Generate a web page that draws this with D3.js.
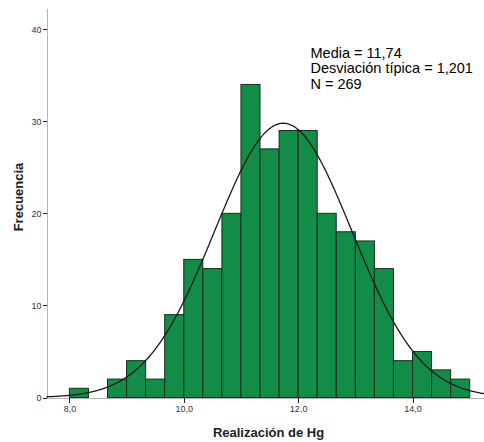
<!DOCTYPE html>
<html>
<head>
<meta charset="utf-8">
<script src="https://cdn.jsdelivr.net/npm/d3@7"></script>
<style>
  body { margin: 0; background: #fff; }
  svg { display: block; font-family: 'Liberation Sans', Arial, sans-serif; }
  .axis path, .axis line { shape-rendering: crispEdges; }
</style>
</head>
<body>
<div id="chart"></div>
<script>
// histogram bins (lower edge) and counts
let binStarts = [8.0, 8.333, 8.667, 9.0, 9.333, 9.667, 10.0, 10.333, 10.667, 11.0, 11.333,
  11.667, 12.0, 12.333, 12.667, 13.0, 13.333, 13.667, 14.0, 14.333, 14.667]
let counts = [1, 0, 2, 4, 2, 9, 15, 14, 20, 34, 27, 29, 29, 20, 18, 17, 14, 4, 5, 3, 2]
let binWidth = 1 / 3

let mean = 11.74
let sd = 1.201
let n = 269

let xTicks = [8, 10, 12, 14]
let yTicks = [0, 10, 20, 30, 40]
let statLines = ['Media = 11,74', 'Desviación típica = 1,201', 'N = 269']

let margin = { top: 8, left: 46.5, right: 0, bottom: 44.5 }
let width = 484 - margin.left - margin.right
let height = 442 - margin.top - margin.bottom

let svg = d3
  .select('#chart')
  .append('svg')
  .attr('width', width + margin.left + margin.right)
  .attr('height', height + margin.top + margin.bottom)
  .append('g')
  .attr('transform', 'translate(' + margin.left + ',' + margin.top + ')')

let xPositionScale = d3
  .scaleLinear()
  .domain([7.6, 15.25])
  .range([0, width])

let yPositionScale = d3
  .scaleLinear()
  .domain([0, 42.3])
  .range([height, 0])

let fmt = d => d.toFixed(1).replace('.', ',')

// axes
let xAxis = d3.axisBottom(xPositionScale)
  .tickValues(xTicks)
  .tickFormat(fmt)
  .tickSize(5)
  .tickSizeOuter(0)
svg
  .append('g')
  .attr('class', 'axis x-axis')
  .attr('transform', 'translate(0,' + height + ')')
  .call(xAxis)

let yAxis = d3.axisLeft(yPositionScale)
  .tickValues(yTicks)
  .tickFormat(d3.format('d'))
  .tickSize(4)
  .tickSizeOuter(0)
svg
  .append('g')
  .attr('class', 'axis y-axis')
  .call(yAxis)

svg.selectAll('.axis .domain').attr('stroke', '#b4b4b4')
svg.selectAll('.axis .tick line').attr('stroke', '#222')
svg.selectAll('.axis .tick text')
  .attr('fill', '#333')
  .style('font-size', '9px')
  .style('font-family', "'Liberation Sans', Arial, sans-serif")
svg.selectAll('.y-axis .tick text').attr('x', -5)
svg.selectAll('.x-axis .tick text').attr('y', 8)

// bars
let bins = binStarts.map((s, i) => ({ x0: s, x1: s + binWidth, count: counts[i] }))
svg
  .selectAll('.bar')
  .data(bins.filter(d => d.count > 0))
  .enter()
  .append('rect')
  .attr('class', 'bar')
  .attr('x', d => xPositionScale(d.x0))
  .attr('y', d => yPositionScale(d.count))
  .attr('width', d => xPositionScale(d.x1) - xPositionScale(d.x0))
  .attr('height', d => yPositionScale(0) - yPositionScale(d.count))
  .attr('fill', '#138c47')
  .attr('stroke', '#1c2a20')
  .attr('stroke-width', 1)

// normal curve scaled to counts
let curvePoints = d3.range(0, 401).map(i => {
  let x = 7.6 + (15.25 - 7.6) * i / 400
  let z = (x - mean) / sd
  let y = n * binWidth * Math.exp(-0.5 * z * z) / (sd * Math.sqrt(2 * Math.PI))
  return { x: x, y: y }
})
let line = d3.line()
  .x(d => xPositionScale(d.x))
  .y(d => yPositionScale(d.y))
  .curve(d3.curveBasis)
svg
  .append('path')
  .datum(curvePoints)
  .attr('d', line)
  .attr('fill', 'none')
  .attr('stroke', '#1a1a1a')
  .attr('stroke-width', 1.3)

// stats text
svg
  .selectAll('.stat')
  .data(statLines)
  .enter()
  .append('text')
  .attr('class', 'stat')
  .attr('x', 310.5 - margin.left)
  .attr('y', (d, i) => 57.5 - margin.top + i * 15.5)
  .style('font-size', '14.5px')
  .attr('fill', '#000')
  .text(d => d)

// axis titles
svg
  .append('text')
  .attr('x', 268.5 - margin.left)
  .attr('y', 437 - margin.top)
  .attr('text-anchor', 'middle')
  .style('font-size', '13px')
  .style('font-weight', 'bold')
  .attr('fill', '#222')
  .text('Realización de Hg')

svg
  .append('text')
  .attr('transform', 'translate(' + (22.5 - margin.left) + ',' + (197 - margin.top) + ') rotate(-90)')
  .attr('text-anchor', 'middle')
  .style('font-size', '13px')
  .style('font-weight', 'bold')
  .attr('fill', '#222')
  .text('Frecuencia')
</script>
</body>
</html>
